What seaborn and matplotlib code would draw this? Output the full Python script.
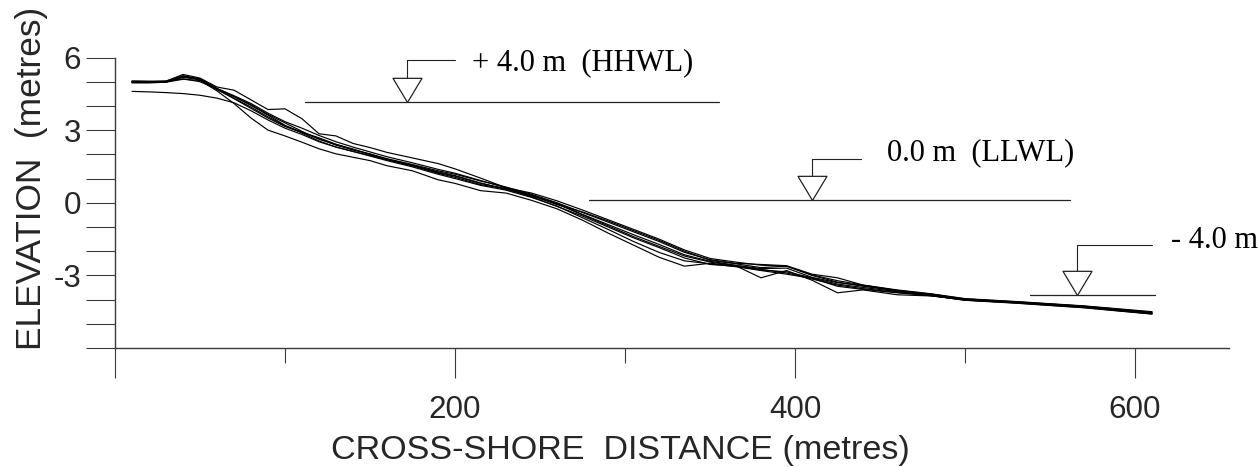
import matplotlib
matplotlib.use("Agg")
import matplotlib.pyplot as plt
import numpy as np
import pandas as pd
import seaborn as sns
from matplotlib import font_manager
from matplotlib.path import Path
from matplotlib.ticker import FixedLocator, FixedFormatter

# ---------------- data ----------------
distance_m = [10, 20, 30, 40, 50, 60, 70, 80, 90, 100,
              110, 120, 130, 140, 150, 160, 175, 190, 200,
              215, 230, 245, 260, 275, 290, 305, 320, 335, 350,
              365, 380, 395, 410, 425, 440, 460, 480, 500,
              530, 570, 610]

profile_0 = [4.60, 4.58, 4.55, 4.51, 4.44, 4.32, 4.13, 3.80, 3.42, 3.08,
             2.82, 2.52, 2.30, 2.12, 1.93, 1.74, 1.48, 1.18, 1.00,
             0.72, 0.52, 0.22, -0.14, -0.62, -1.10, -1.60, -2.05, -2.40, -2.52,
             -2.64, -2.80, -2.95, -3.12, -3.45, -3.58, -3.72, -3.84, -4.02,
             -4.13, -4.31, -4.58]
profile_1 = [5.00, 5.00, 5.02, 5.30, 5.15, 4.78, 4.65, 4.25, 3.85, 3.88,
             3.47, 2.85, 2.76, 2.45, 2.28, 2.08, 1.85, 1.62, 1.40,
             1.02, 0.62, 0.40, 0.08, -0.30, -0.70, -1.10, -1.50, -1.95, -2.30,
             -2.45, -2.58, -2.62, -2.98, -3.22, -3.40, -3.60, -3.76, -3.96,
             -4.08, -4.26, -4.50]
profile_2 = [4.98, 4.97, 4.98, 5.10, 5.05, 4.62, 4.10, 3.50, 3.00, 2.76,
             2.50, 2.23, 2.02, 1.88, 1.74, 1.53, 1.32, 0.95, 0.80,
             0.50, 0.40, 0.10, -0.25, -0.72, -1.25, -1.75, -2.25, -2.62, -2.50,
             -2.62, -2.78, -2.85, -3.10, -3.36, -3.50, -3.67, -3.83, -4.03,
             -4.15, -4.34, -4.60]
profile_3 = [5.02, 5.01, 5.00, 5.22, 5.10, 4.72, 4.40, 4.05, 3.65, 3.30,
             2.95, 2.62, 2.40, 2.22, 2.00, 1.80, 1.55, 1.25, 1.10,
             0.80, 0.58, 0.28, -0.05, -0.50, -0.95, -1.40, -1.80, -2.20, -2.45,
             -2.60, -3.10, -2.80, -3.20, -3.72, -3.60, -3.80, -3.85, -4.00,
             -4.11, -4.29, -4.55]
profile_4 = [4.95, 4.95, 4.98, 5.18, 5.08, 4.68, 4.30, 3.90, 3.50, 3.15,
             2.90, 2.65, 2.38, 2.18, 2.02, 1.82, 1.58, 1.32, 1.18,
             0.90, 0.65, 0.35, 0.00, -0.40, -0.80, -1.20, -1.60, -2.05, -2.35,
             -2.50, -2.55, -2.60, -2.95, -3.10, -3.40, -3.62, -3.77, -3.97,
             -4.09, -4.27, -4.52]
profile_5 = [5.00, 4.99, 5.01, 5.12, 5.00, 4.70, 4.38, 4.02, 3.62, 3.20,
             2.88, 2.55, 2.30, 2.12, 1.95, 1.78, 1.52, 1.22, 1.05,
             0.75, 0.58, 0.25, -0.15, -0.55, -1.00, -1.45, -1.85, -2.28, -2.55,
             -2.62, -2.75, -2.90, -3.15, -3.40, -3.55, -3.70, -3.84, -4.02,
             -4.14, -4.33, -4.59]
profile_6 = [5.03, 5.02, 5.03, 5.25, 5.12, 4.72, 4.42, 4.10, 3.70, 3.35,
             3.08, 2.78, 2.52, 2.30, 2.10, 1.90, 1.65, 1.38, 1.22,
             0.92, 0.62, 0.32, -0.08, -0.38, -0.75, -1.15, -1.55, -2.00, -2.38,
             -2.52, -2.68, -2.62, -3.00, -3.28, -3.45, -3.64, -3.79, -3.99,
             -4.10, -4.28, -4.54]
profile_7 = [4.97, 4.98, 4.99, 5.20, 5.10, 4.68, 4.32, 3.95, 3.55, 3.18,
             2.92, 2.68, 2.42, 2.20, 2.00, 1.78, 1.55, 1.28, 1.12,
             0.82, 0.55, 0.30, -0.02, -0.48, -0.90, -1.32, -1.72, -2.15, -2.42,
             -2.58, -2.72, -2.70, -3.08, -3.30, -3.42, -3.63, -3.80, -4.00,
             -4.12, -4.31, -4.57]

profiles = [profile_0, profile_1, profile_2, profile_3,
            profile_4, profile_5, profile_6, profile_7]

# water-level markers
level_elev = [4.15, 0.10, -3.82]
level_text = ["+ 4.0 m  (HHWL)", "0.0 m  (LLWL)", "- 4.0 m"]
level_start = [112, 279, 538]
level_end = [355, 562, 612]
marker_x = [172, 410, 566]
leader_top = [5.90, 1.82, -1.75]
leader_end = [200, 439, 610]
text_x = [210, 454, 621]
text_y = [5.80, 2.05, -1.58]

x_ticks_major = [0, 200, 400, 600]
x_tick_labels = ["", "200", "400", "600"]
x_ticks_minor = [100, 300, 500]
y_ticks = [-6, -5, -4, -3, -2, -1, 0, 1, 2, 3, 4, 5, 6]
y_tick_labels = ["", "", "", "-3", "", "", "0", "", "", "3", "", "", "6"]

# ---------------- style ----------------
sns.set_style("ticks")
names = {f.name for f in font_manager.fontManager.ttflist}
if "Liberation Sans Narrow" in names:
    sans, k = "Liberation Sans Narrow", 1.0
else:
    sans, k = "Liberation Sans", 0.82
plt.rcParams["font.family"] = [sans, "DejaVu Sans"]

df = pd.concat(
    [pd.DataFrame({"distance": distance_m, "elevation": p, "profile": i})
     for i, p in enumerate(profiles)],
    ignore_index=True)

fig = plt.figure(figsize=(12.6, 4.67), dpi=100)
ax = fig.add_axes([115 / 1260, 119 / 467, 1113.5 / 1260, 290.5 / 467])

sns.lineplot(data=df, x="distance", y="elevation", units="profile",
             estimator=None, color="black", lw=0.85, ax=ax, legend=False)

ax.set_xlim(0, 655)
ax.set_ylim(-6, 6)

for s in ["top", "right"]:
    ax.spines[s].set_visible(False)
spine_c = "#3a3a3a"
for s in ["left", "bottom"]:
    ax.spines[s].set_color(spine_c)
    ax.spines[s].set_linewidth(1.0)

ax.xaxis.set_major_locator(FixedLocator(x_ticks_major))
ax.xaxis.set_major_formatter(FixedFormatter(x_tick_labels))
ax.xaxis.set_minor_locator(FixedLocator(x_ticks_minor))
ax.yaxis.set_major_locator(FixedLocator(y_ticks))
ax.yaxis.set_major_formatter(FixedFormatter(y_tick_labels))

tick_fs = 27.5 * k
ax.tick_params(axis="x", which="major", direction="out", length=21.6, width=0.8,
               color=spine_c, pad=12, labelsize=tick_fs)
ax.tick_params(axis="x", which="minor", direction="out", length=10.8, width=0.8,
               color=spine_c)
ax.tick_params(axis="y", which="major", direction="out", length=20.9, width=0.8,
               color=spine_c, pad=3.6, labelsize=tick_fs)

ax.set_xlabel("CROSS-SHORE  DISTANCE (metres)", fontsize=30 * k)
ax.set_ylabel("ELEVATION  (metres)", fontsize=31 * k)
ax.xaxis.set_label_coords(0.4535, -0.300)
ax.yaxis.set_label_coords(-0.0602, 0.585)

# water level symbols
tri = Path([(-0.6, 1.0), (0.6, 1.0), (0.0, 0.0), (-0.6, 1.0)],
           [Path.MOVETO, Path.LINETO, Path.LINETO, Path.CLOSEPOLY])
for lv, txt, xs, xe, mx, lt, le, tx, ty in zip(level_elev, level_text, level_start,
                                               level_end, marker_x, leader_top,
                                               leader_end, text_x, text_y):
    ax.plot([xs, xe], [lv, lv], color="#222222", lw=0.9, zorder=3, clip_on=False)
    ax.plot([mx, mx, le], [lv, lt, lt], color="#222222", lw=0.8, zorder=3,
            clip_on=False)
    ax.plot([mx], [lv], marker=tri, ms=34.8, mfc="white", mec="#222222", mew=0.9,
            ls="none", zorder=4, clip_on=False)
    ax.text(tx, ty, txt, ha="left", va="center", fontsize=22,
            family=["Liberation Serif", "DejaVu Serif"], color="black", clip_on=False)

fig.savefig("out.png", dpi=100)
